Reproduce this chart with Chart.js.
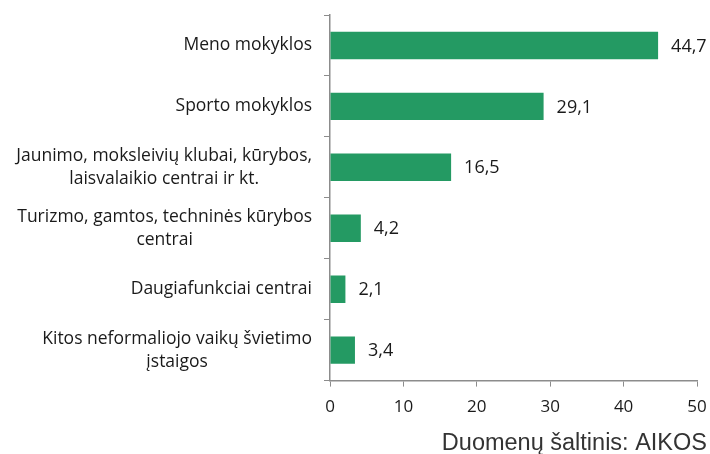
<!DOCTYPE html>
<html>
<head>
<meta charset="utf-8">
<script src="https://cdn.jsdelivr.net/npm/chart.js@4"></script>
<style>
  html, body { margin: 0; padding: 0; background: #fff; }
  #wrap { width: 710px; height: 454px; position: relative; }
</style>
</head>
<body>
<div id="wrap"><canvas id="grafikas" width="710" height="454"></canvas></div>
<script>
// duomenys
const kategorijos = [
  ["Meno mokyklos"],
  ["Sporto mokyklos"],
  ["Jaunimo, moksleivių klubai, kūrybos,", "laisvalaikio centrai ir kt."],
  ["Turizmo, gamtos, techninės kūrybos", "centrai"],
  ["Daugiafunkciai centrai"],
  ["Kitos neformaliojo vaikų švietimo", "įstaigos"]
];
const reiksmes = [44.7, 29.1, 16.5, 4.2, 2.1, 3.4];
const xTicks = [0, 10, 20, 30, 40, 50];
const saltinis = "Duomenų šaltinis: AIKOS";

const spalva = '#249a63';
const asiesSpalva = '#8c8c8c';
const sriftas = '"Open Sans", Lato, sans-serif';

// y asies pavadinimai, reiksmiu etiketes ir saltinis
const piesiniai = {
  id: 'piesiniai',
  afterDraw(chart) {
    const ctx = chart.ctx;
    const y = chart.scales.y;
    const x = chart.scales.x;
    ctx.save();
    ctx.fillStyle = '#1a1a1a';
    ctx.font = '17.5px ' + sriftas;
    ctx.textBaseline = 'middle';
    ctx.textAlign = 'center';
    const desine = 312;
    const eilAukstis = 23;
    kategorijos.forEach((eil, i) => {
      const cy = y.getPixelForValue(i);
      const plotis = Math.max(...eil.map(s => ctx.measureText(s).width));
      const cx = desine - plotis / 2;
      eil.forEach((s, j) => {
        ctx.fillText(s, cx, cy + (j - (eil.length - 1) / 2) * eilAukstis);
      });
    });
    // reiksmes
    ctx.font = '18px ' + sriftas;
    ctx.textAlign = 'left';
    reiksmes.forEach((v, i) => {
      ctx.fillText(v.toFixed(1).replace('.', ','), x.getPixelForValue(v) + 13, y.getPixelForValue(i) + 1);
    });
    // saltinis
    ctx.fillStyle = '#333';
    ctx.font = '23.5px "Liberation Sans", Arial, sans-serif';
    ctx.textAlign = 'right';
    ctx.textBaseline = 'alphabetic';
    ctx.fillText(saltinis, 707, 450);
    ctx.restore();
  }
};

new Chart(document.getElementById('grafikas').getContext('2d'), {
  type: 'bar',
  data: {
    labels: kategorijos,
    datasets: [{
      data: reiksmes,
      backgroundColor: spalva,
      barPercentage: 0.45,
      categoryPercentage: 1
    }]
  },
  options: {
    indexAxis: 'y',
    responsive: false,
    animation: false,
    layout: { padding: { top: 15, right: 13, bottom: 27, left: 0 } },
    plugins: { legend: { display: false }, tooltip: { enabled: false } },
    scales: {
      x: {
        min: 0,
        max: 50,
        afterBuildTicks: s => { s.ticks = xTicks.map(v => ({ value: v })); },
        afterFit: s => { s.paddingRight = 0; s.paddingLeft = 0; },
        grid: { drawOnChartArea: false, color: asiesSpalva, tickLength: 6 },
        border: { color: asiesSpalva, width: 1.5 },
        ticks: { color: '#1a1a1a', font: { size: 17, family: sriftas }, padding: 10 }
      },
      y: {
        afterFit: s => { s.width = 330; },
        grid: { drawOnChartArea: false, color: asiesSpalva, tickLength: 6, offset: true },
        border: { color: asiesSpalva, width: 1.5 },
        ticks: { display: false }
      }
    }
  },
  plugins: [piesiniai]
});
</script>
</body>
</html>
